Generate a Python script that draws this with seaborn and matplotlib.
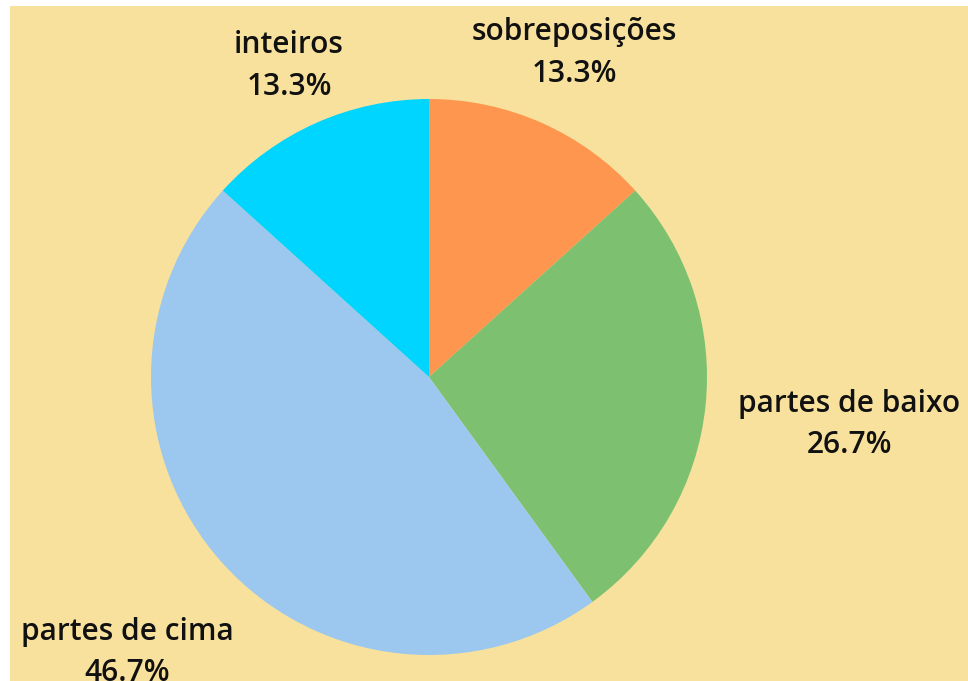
import numpy as np
import matplotlib
matplotlib.use('Agg')
import matplotlib.pyplot as plt
import seaborn as sns

# Slice data (clockwise from the top)
categories = ['sobreposições', 'partes de baixo', 'partes de cima', 'inteiros']
values = [13.3, 26.7, 46.7, 13.3]
colors = ['#FF964F', '#7DC06F', '#9CC8EF', '#00D5FF']
label_dist = [1.29, 1.52, 1.46, 1.24]

sns.set_style("white")
plt.rcParams['font.family'] = ['Open Sans', 'DejaVu Sans']

fig = plt.figure(figsize=(9.68, 6.81), dpi=100, facecolor='white')
ax = fig.add_axes([10 / 968, 0, 958 / 968, 675 / 681])
ax.add_patch(plt.Rectangle((0, 0), 958, 675, color='#F7E19C', zorder=0))

center = (419, 304)
radius = 278
wedges, _ = ax.pie(values, colors=colors, startangle=90, counterclock=False,
                   center=center, radius=radius, frame=True,
                   wedgeprops=dict(linewidth=0))
ax.set_xlim(0, 958)
ax.set_ylim(0, 675)
ax.set_aspect('equal')
ax.axis('off')

for w, name, v, d in zip(wedges, categories, values, label_dist):
    mid = np.deg2rad((w.theta1 + w.theta2) / 2)
    x = center[0] + d * radius * np.cos(mid)
    y = center[1] + d * radius * np.sin(mid) - 4
    ax.text(x, y, f'{name}\n{v:.1f}%', ha='center', va='center',
            fontsize=21.5, fontweight='semibold', color='#111111',
            linespacing=1.5, clip_on=False)

fig.savefig('out.png', dpi=100, facecolor='white')
